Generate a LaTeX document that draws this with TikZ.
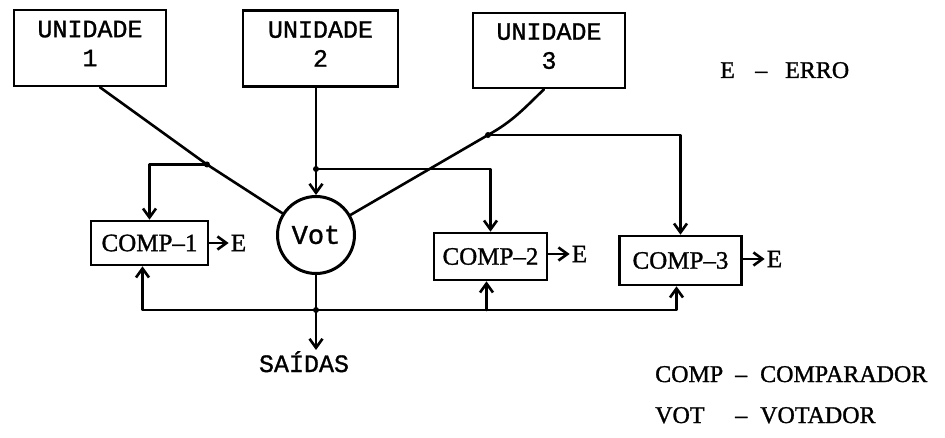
\documentclass[tikz,border=0pt]{standalone}
\usepackage{fontspec}
\setmainfont[FakeBold=1.2]{Liberation Serif}
\newfontfamily\tw[FakeBold=1.2]{Liberation Mono}
\usetikzlibrary{arrows.meta,calc}
\begin{document}
\begin{tikzpicture}[x=1pt,y=-1pt,
  ln/.style={line width=2.6pt, line cap=round, line join=round},
  arr/.style={ln,-{Straight Barb[length=9pt,width=13pt]}},
  unitbox/.style={draw, line width=2.6pt, minimum width=152pt, minimum height=76pt, inner sep=0pt, align=center, text depth=9pt, font=\tw\fontsize{25}{30}\selectfont},
  compbox/.style={draw, line width=2.6pt, inner sep=0pt, font=\fontsize{25}{28}\selectfont},
  lbl/.style={inner sep=1pt, font=\fontsize{25}{28}\selectfont},
  dot/.style={circle, fill, inner sep=0pt, minimum size=6pt}
]
\useasboundingbox (0,0) rectangle (945,438);

% units
\node[unitbox] (u1) at (90,48) {UNIDADE\\[-1pt]1};
\node[unitbox, minimum width=155pt] (u2) at (320.5,48.5) {UNIDADE\\[-1pt]2};
\node[unitbox, minimum height=75pt] (u3) at (549,50.5) {UNIDADE\\[-1pt]3};

% voter
\node[draw, circle, line width=3pt, minimum size=77pt, inner sep=0pt, font=\tw\fontsize{27}{30}\selectfont] (vot) at (316,235) {Vot};

% comparators
\node[compbox, minimum width=117pt, minimum height=44pt] (c1) at (149.5,243) {COMP--1};
\node[compbox, minimum width=113pt, minimum height=47pt] (c2) at (490.5,256.5) {COMP--2};
\node[compbox, minimum width=122pt, minimum height=49pt] (c3) at (680.5,260.5) {COMP--3};

% error labels
\node[lbl] (e1) at (238.5,243) {E};
\node[lbl] (e2) at (579.5,254) {E};
\node[lbl] (e3) at (774.5,259) {E};

% output label
\node[inner sep=1pt, anchor=base, font=\tw\fontsize{25}{30}\selectfont] (sai) at (304,372) {SAÍDAS};

% legend
\node[inner sep=0pt, anchor=base west, font=\fontsize{24}{28}\selectfont] (leg0) at (720,78) {\makebox[35pt][l]{E}\makebox[30pt][l]{--}ERRO};
\node[inner sep=0pt, anchor=base west, font=\fontsize{24}{28}\selectfont] (leg1) at (655,382) {\makebox[80pt][l]{COMP}\makebox[25pt][l]{--}COMPARADOR};
\node[inner sep=0pt, anchor=base west, font=\fontsize{24}{28}\selectfont] (leg2) at (655,423) {\makebox[80pt][l]{VOT}\makebox[25pt][l]{--}VOTADOR};

% junctions
\coordinate (j1) at (207,164.5);
\coordinate (j2) at (vot.north |- 0,169);
\coordinate (j3) at (488,135);
\coordinate (jb) at (vot.south |- 0,310);
\coordinate (u1b) at ($(u1.south)+(10,0)$);
\coordinate (u3b) at ($(u3.south)+(-5,0)$);
\coordinate (c1b) at ($(c1.south)+(-7,0)$);
\coordinate (c2b) at ($(c2.south)+(-4,0)$);
\coordinate (c3b) at ($(c3.south)+(-4,0)$);

% unit -> voter
\draw[ln] (u1b) -- (j1) -- (vot);
\draw[arr] (u2.south -| vot.north) -- (vot.north);
\draw[ln] (u3b) to[out=224,in=29] (j3) -- (vot);

% feeds to comparators
\draw[arr] (j1) -| (c1.north);
\draw[arr] (j2) -| (c2.north);
\draw[arr] (j3) -| (c3.north);

% voter output and bus
\draw[ln] (vot.south) -- (jb);
\draw[arr] (jb) -- (jb |- sai.north);
\draw[arr] (jb) -| (c1b);
\draw[arr] (jb) -| (c3b);
\draw[arr] (c2b |- jb) -- (c2b);

% error outputs
\draw[arr, shorten >=1pt] (c1.east) -- (e1.west);
\draw[arr, shorten >=1pt] (c2.east |- e2.west) -- (e2.west);
\draw[arr, shorten >=1pt] (c3.east |- e3.west) -- (e3.west);

% dots
\node[dot] at (j1) {};
\node[dot] at (j2) {};
\node[dot] at (j3) {};
\node[dot] at (jb) {};
\end{tikzpicture}
\end{document}
